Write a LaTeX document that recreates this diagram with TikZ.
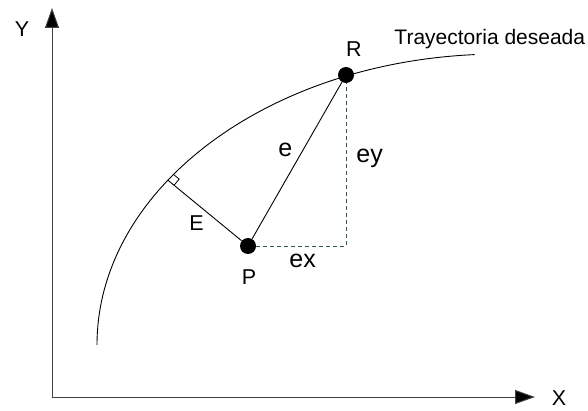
\documentclass[tikz,border=0pt]{standalone}
\usepackage{fontspec}
\setmainfont{Liberation Sans}
\usetikzlibrary{arrows.meta, positioning, calc}

\definecolor{dkgreen}{RGB}{40,95,60}

\tikzset{
    axis/.style={line width=1pt, black!75, -{Triangle[length=20pt, width=14pt, fill=black]}},
    dot/.style={circle, fill=black, minimum size=16pt, inner sep=0pt},
    lbl/.style={font=\fontsize{21.5}{24}\selectfont, inner sep=0pt, anchor=base},
    errlbl/.style={font=\fontsize{25}{28}\selectfont, inner sep=0pt, anchor=base west},
    errdash/.style={dkgreen, line width=0.8pt, dash pattern=on 4pt off 3pt}
}

\begin{document}
\begin{tikzpicture}[x=1pt, y=1pt, line width=0.9pt]
    \useasboundingbox (0,0) rectangle (588,410);

    % Ejes
    \coordinate (O) at (52,13);
    \coordinate (Ytip) at (52,402);
    \coordinate (Xtip) at (535,13);
    \draw[axis] (O) -- (Ytip);
    \draw[axis] (O) -- (Xtip);
    \node[lbl] (ylab) at (22,373) {Y};
    \node[lbl] (xlab) at (559,5) {X};

    % Trayectoria deseada (arco de elipse)
    \coordinate (C) at (500,65);
    \draw (97,65) arc[start angle=180, end angle=93.6, x radius=403, y radius=291];
    \node[font=\fontsize{21}{24}\selectfont, inner sep=0pt, anchor=base west] (tray) at (394,365) {Trayectoria deseada};

    % Puntos
    \node[dot] (R) at (346,335) {};
    \node[dot] (P) at (248,164) {};
    \node[lbl] (rlab) at (354,353) {R};
    \node[lbl] (plab) at (249,126) {P};

    % Error e y componentes
    \coordinate (K) at (346,164);
    \draw (P) -- (R);
    \draw[errdash] (P) -- (K) -- (R);
    \node[errlbl] (elab) at (278,253) {e};
    \node[errlbl] (eylab) at (356,247) {ey};
    \node[errlbl] (exlab) at (289,143) {ex};

    % Distancia E a la trayectoria
    \coordinate (F) at ($(C)+(145.5:403 and 291)$);
    \draw (F) -- (P);
    \coordinate (A) at ($(F)!8pt!(P)$);
    \draw[line width=0.8pt] (A) -- ($(A)!8pt!-90:(F)$) -- ($(F)!8pt!90:(P)$);
    \node[lbl, anchor=base west] (Elab) at (189,180) {E};
\end{tikzpicture}
\end{document}
